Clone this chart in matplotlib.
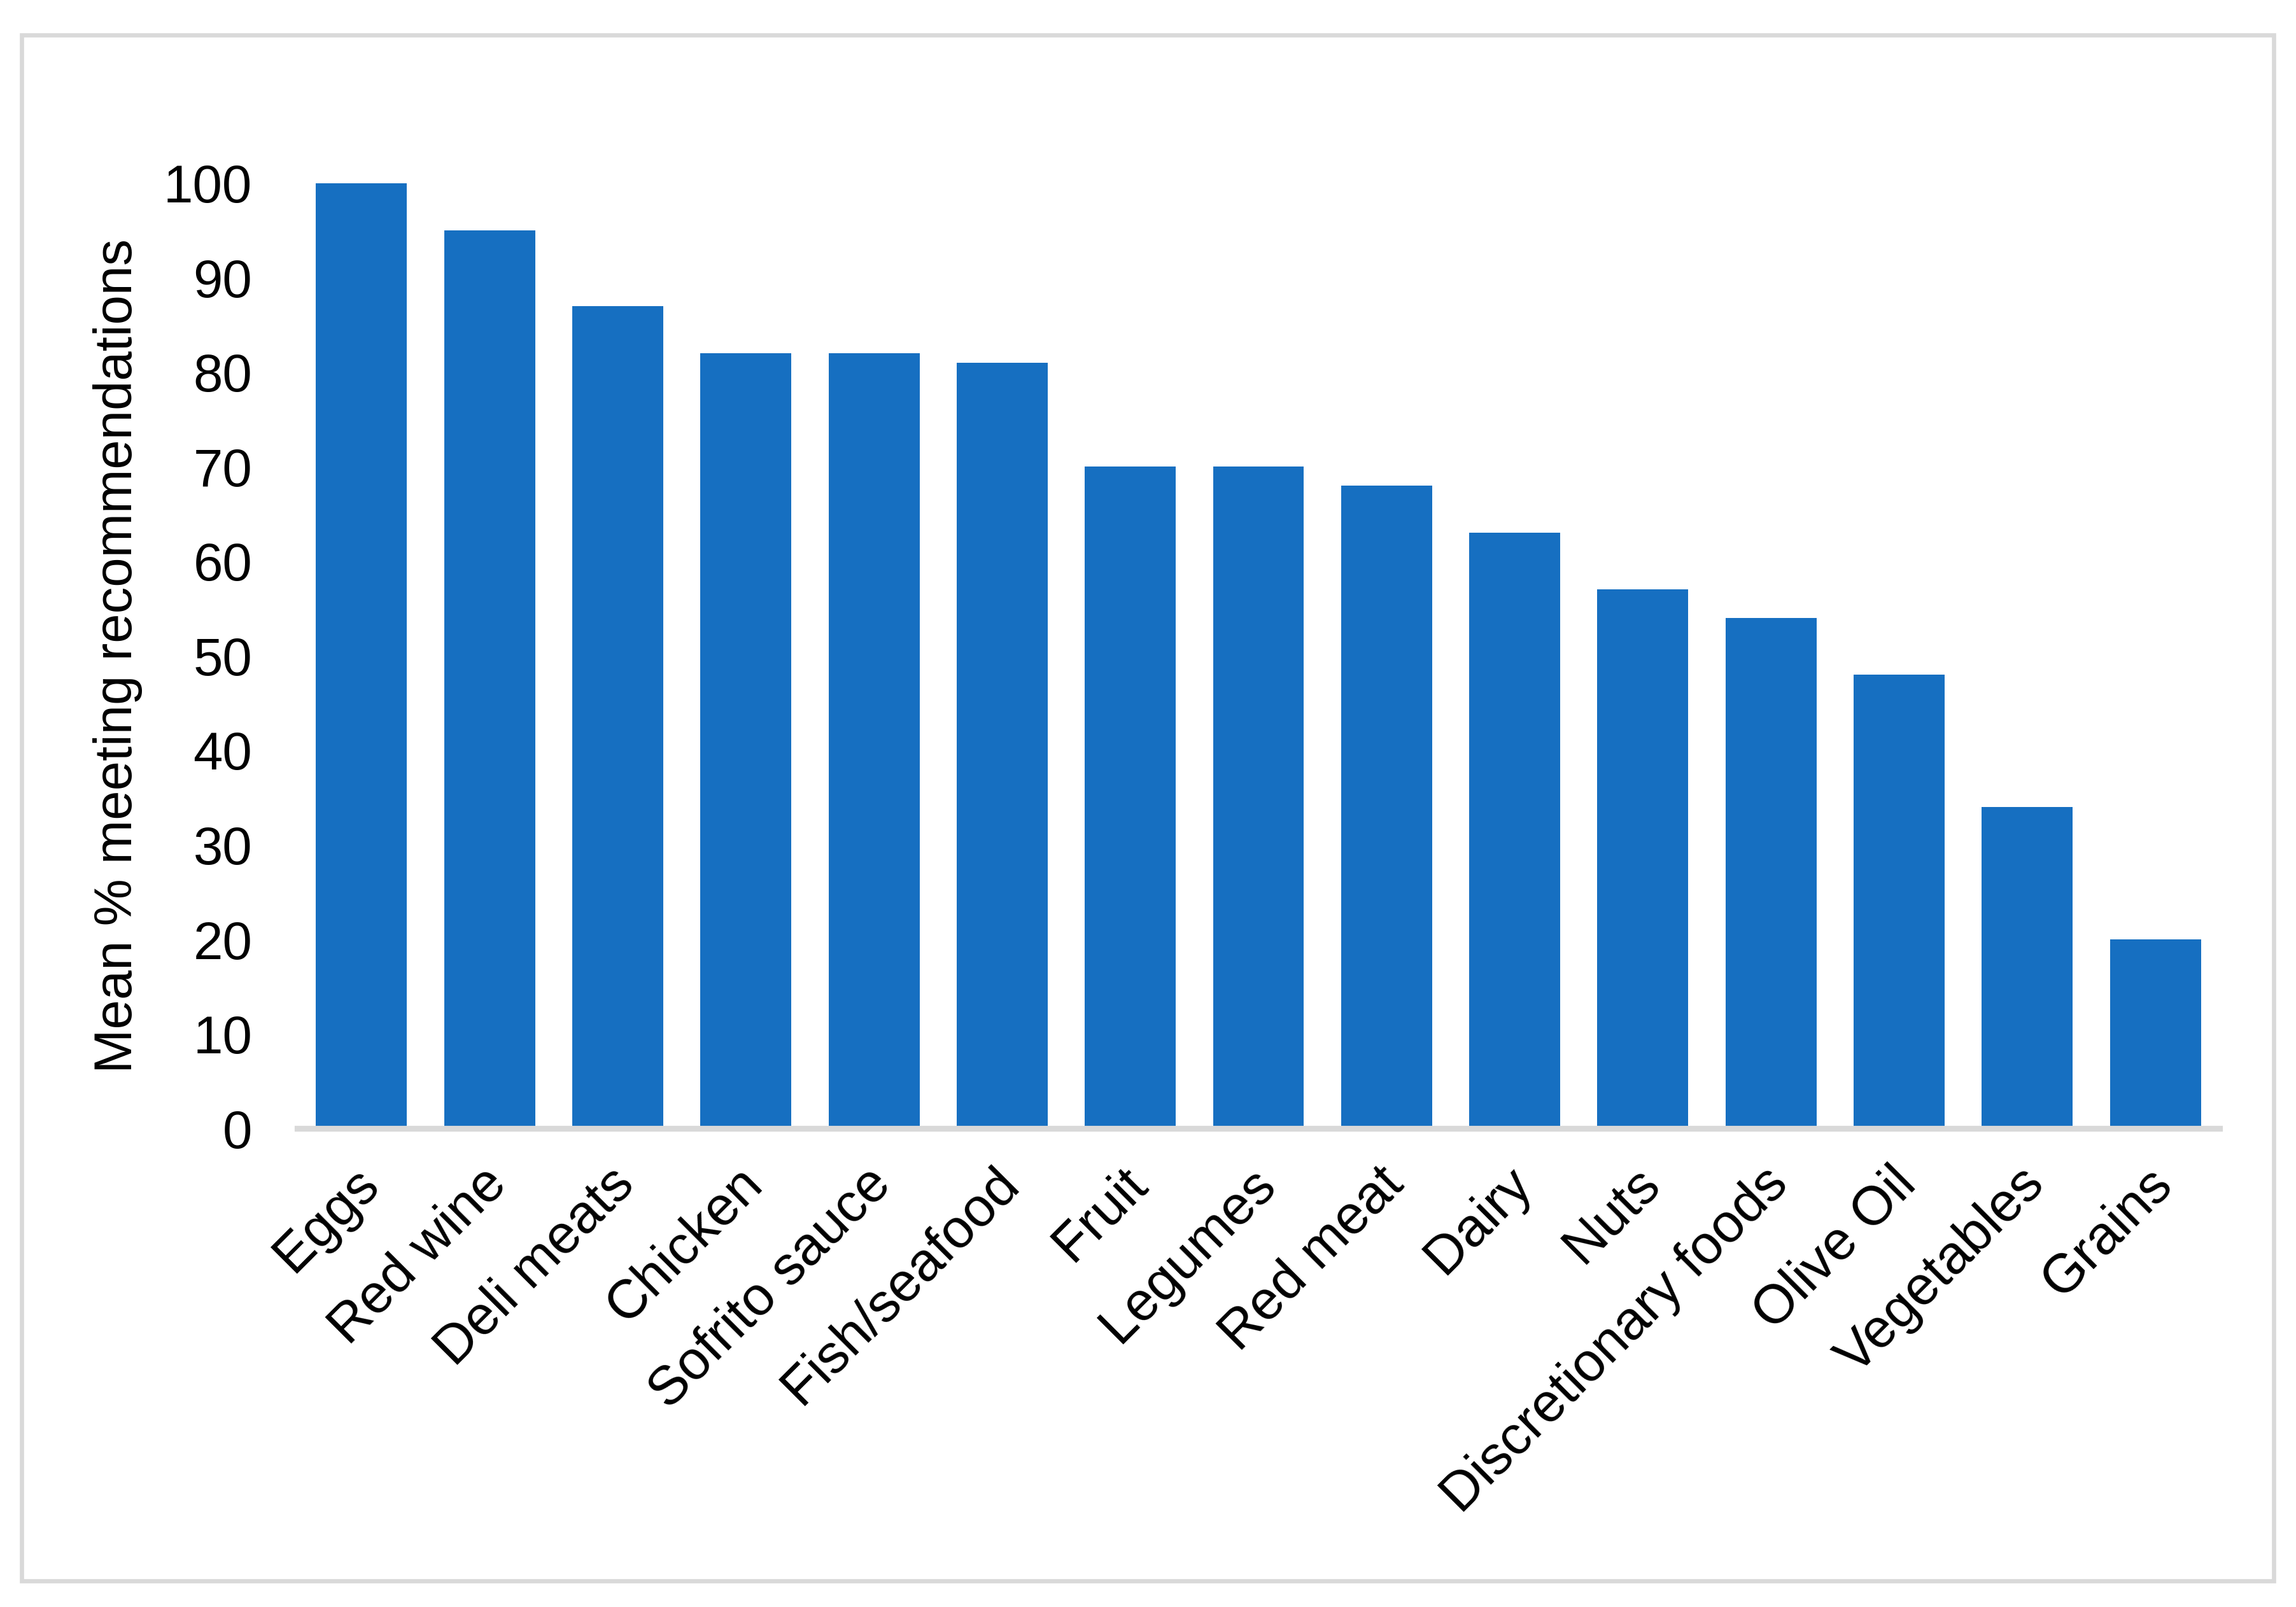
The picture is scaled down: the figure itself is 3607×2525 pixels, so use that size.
import matplotlib
matplotlib.use("Agg")
import matplotlib.pyplot as plt
import matplotlib.transforms as mtransforms
from matplotlib.patches import Rectangle

plt.rcParams["font.family"] = ["Liberation Sans", "DejaVu Sans"]

foods = ["Eggs", "Red wine", "Deli meats", "Chicken", "Sofrito sauce", "Fish/seafood",
         "Fruit", "Legumes", "Red meat", "Dairy", "Nuts", "Discretionary foods",
         "Olive Oil", "Vegetables", "Grains"]
pct_meeting = [100, 95, 87, 82, 82, 81, 70, 70, 68, 63, 57, 54, 48, 34, 20]
y_ticks = list(range(0, 101, 10))

BLUE = "#166FC1"
GREY = "#D9D9D9"
FS = 20

fig = plt.figure(figsize=(3607 / 300, 2525 / 300), dpi=300)
# light grey frame round the whole chart
fig.patches.append(Rectangle((0.0094, 0.0162), 0.9809, 0.9620, transform=fig.transFigure,
                             fill=False, edgecolor=GREY, lw=1.6))

ax = fig.add_axes([0.1295, 0.2978, 0.8372, 0.5882])
x = range(len(foods))
ax.bar(x, pct_meeting, width=0.71, color=BLUE, zorder=2, clip_on=False)

ax.set_xlim(-0.5, len(foods) - 0.5)
ax.set_ylim(0, 100)
ax.set_yticks(y_ticks)
ax.tick_params(axis="y", length=0, pad=17, labelsize=FS)
ax.set_xticks(list(x))
ax.set_xticklabels(foods, rotation=45, ha="right", va="center", rotation_mode="anchor")
ax.tick_params(axis="x", length=0, pad=18, labelsize=20.5)

# nudge the slanted labels a touch to the right, like the original
shift = mtransforms.ScaledTranslation(14 / 300, 0, fig.dpi_scale_trans)
for lbl in ax.get_xticklabels():
    lbl.set_transform(lbl.get_transform() + shift)

for s in ["top", "right", "left"]:
    ax.spines[s].set_visible(False)
ax.spines["bottom"].set_color(GREY)
ax.spines["bottom"].set_linewidth(2.2)
ax.spines["bottom"].set_zorder(3)

ax.set_ylabel("Mean % meeting recommendations", fontsize=FS, labelpad=8)

fig.savefig("out.png", dpi=300)
